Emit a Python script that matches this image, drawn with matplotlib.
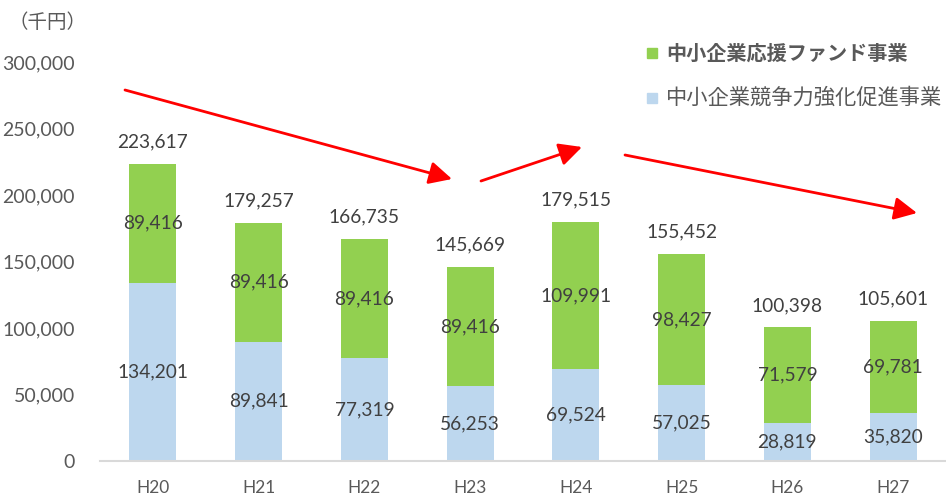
import matplotlib
matplotlib.use("Agg")
import matplotlib.pyplot as plt
from matplotlib.patches import FancyArrowPatch

categories = ["H20", "H21", "H22", "H23", "H24", "H25", "H26", "H27"]
promotion = [134201, 89841, 77319, 56253, 69524, 57025, 28819, 35820]   # 中小企業競争力強化促進事業
fund = [89416, 89416, 89416, 89416, 109991, 98427, 71579, 69781]        # 中小企業応援ファンド事業
totals = [223617, 179257, 166735, 145669, 179515, 155452, 100398, 105601]
yticks = [0, 50000, 100000, 150000, 200000, 250000, 300000]
legend_labels = ["中小企業応援ファンド事業", "中小企業競争力強化促進事業"]

W, H = 946, 495
fig = plt.figure(figsize=(W / 100, H / 100), dpi=100)
ax = fig.add_axes([100 / W, 1 - 461 / H, 846 / W, 399 / H])

green = "#92D050"
blue = "#BDD7EE"
gray = "#595959"
numfont = "Lato"
jp = ["Noto Sans CJK JP", "DejaVu Sans"]

x = list(range(len(categories)))
bw = 0.445
ax.bar(x, promotion, bw, color=blue, zorder=2)
ax.bar(x, fund, bw, bottom=promotion, color=green, zorder=2)

for i in x:
    ax.text(i, promotion[i] / 2, f"{promotion[i]:,}", ha="center", va="center",
            fontsize=13.8, color="#404040", family=numfont, zorder=3)
    ax.text(i, promotion[i] + fund[i] / 2, f"{fund[i]:,}", ha="center", va="center",
            fontsize=13.8, color="#404040", family=numfont, zorder=3)
    ax.text(i, totals[i] + 16500, f"{totals[i]:,}", ha="center", va="center",
            fontsize=13.8, color="#404040", family=numfont, zorder=3)

ax.set_xlim(-0.5, len(categories) - 0.5)
ax.set_ylim(0, 300000)
ax.set_yticks(yticks)
ax.set_yticklabels([f"{v:,}" for v in yticks], family=numfont, fontsize=14, color=gray)
ax.set_xticks(x)
ax.set_xticklabels(categories, family=numfont, fontsize=12.5, color=gray)
ax.tick_params(axis="both", length=0)
ax.tick_params(axis="y", pad=18)
ax.tick_params(axis="x", pad=14)
for s in ["top", "right", "left"]:
    ax.spines[s].set_visible(False)
ax.spines["bottom"].set_color("#D9D9D9")
ax.spines["bottom"].set_linewidth(1.5)

fig.text(8 / W, 1 - 23 / H, "（千円）", family=jp, fontsize=14, color=gray,
         ha="left", va="center")

# legend
for j, (lab, col, yy, wt, fs) in enumerate([(legend_labels[0], green, 53, "bold", 14.5),
                                             (legend_labels[1], blue, 98, "normal", 15.3)]):
    fig.patches.append(plt.Rectangle((647 / W, 1 - (yy + 5) / H), 10 / W, 10 / H,
                                     transform=fig.transFigure, color=col, figure=fig))
    fig.text(666 / W, 1 - yy / H, lab, family=jp, fontsize=fs, color=gray,
             fontweight=wt, ha="left", va="center")

def arrow(p0, p1):
    a = FancyArrowPatch((p0[0] / W, 1 - p0[1] / H), (p1[0] / W, 1 - p1[1] / H),
                        transform=fig.transFigure, arrowstyle="-|>,head_length=12,head_width=6",
                        color="#FF0000", linewidth=2, mutation_scale=1.15, shrinkA=0, shrinkB=0)
    fig.patches.append(a)

arrow((125, 90), (452, 179))
arrow((481, 181), (582, 147))
arrow((625, 155), (917, 213))

fig.savefig("out.png", dpi=100)
